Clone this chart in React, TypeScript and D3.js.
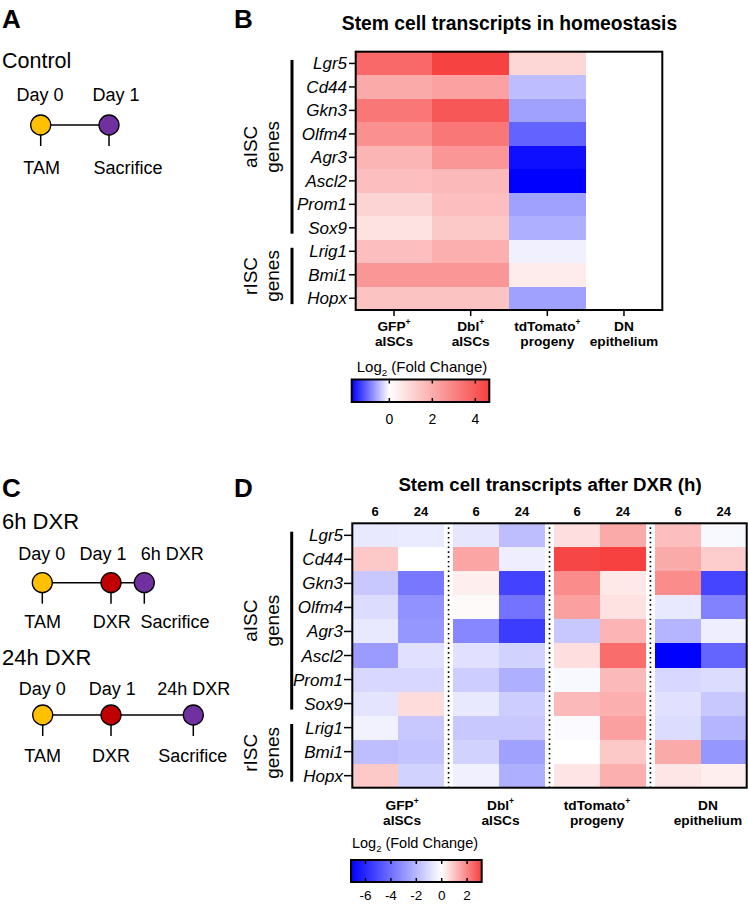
import React from "react";
import * as d3 from "d3";

// ---------- DATA ----------
const genes = ["Lgr5", "Cd44", "Gkn3", "Olfm4", "Agr3", "Ascl2", "Prom1", "Sox9", "Lrig1", "Bmi1", "Hopx"];
const aiscGenes = ["Lgr5", "Cd44", "Gkn3", "Olfm4", "Agr3", "Ascl2", "Prom1", "Sox9"];
const riscGenes = ["Lrig1", "Bmi1", "Hopx"];

const populations = ["GFP", "Dbl", "tdTomato", "DN"];
const popLabels = [
  { main: "GFP", sup: "+", second: "aISCs" },
  { main: "Dbl", sup: "+", second: "aISCs" },
  { main: "tdTomato", sup: "+", second: "progeny" },
  { main: "DN", sup: "", second: "epithelium" },
];

// Panel B: Log2 fold change in homeostasis
const homeoGFP = [3.65, 2.07, 3.3, 2.7, 1.8, 1.58, 1.05, 0.73, 1.58, 2.55, 1.46];
const homeoDbl = [4.6, 2.3, 4.1, 3.3, 2.55, 1.7, 1.58, 1.34, 1.95, 2.55, 1.46];
const homeoTdTomato = [1.0, -0.45, -0.65, -1.07, -1.65, -1.75, -0.65, -0.55, -0.1, 0.49, -0.65];
const homeoDN = [0, 0, 0, 0, 0, 0, 0, 0, 0, 0, 0];
const homeoDomain = [-1.75, 0, 4.65];
const homeoTicks = [0, 2, 4];

// Panel D: Log2 fold change after DXR (6h, 24h)
const dxrTimes = ["6", "24"];
const gfp6 = [-0.64, 0.91, -1.54, -0.98, -0.64, -2.8, -1.12, -0.76, -0.36, -1.82, 0.91];
const gfp24 = [-0.55, 0, -3.78, -3.08, -2.94, -0.84, -1.12, 0.58, -1.54, -1.68, -1.26];
const dbl6 = [-0.7, 1.48, 0.28, 0.08, -3.36, -0.84, -1.4, -0.64, -1.54, -1.26, -0.42];
const dbl24 = [-1.82, -0.48, -5.3, -3.92, -5.46, -1.26, -2.24, -1.4, -1.54, -2.66, -2.24];
const td6 = [0.55, 3.05, 1.9, 1.57, -1.54, 0.55, -0.2, 1.16, -0.14, 0, 0.45];
const td24 = [1.4, 3.15, 0.38, 0.5, 1.24, 2.4, 1.16, 1.32, 1.57, 0.91, 1.32];
const dn6 = [1.07, 1.4, 1.9, -0.64, -2.1, -7.14, -1.12, -0.84, -0.98, 1.4, 0.41];
const dn24 = [-0.2, 0.82, -5.2, -3.5, -0.48, -4.34, -0.98, -1.54, -2.1, -2.94, 0.28];
const dxrDomain = [-7.14, 0, 3.15];
const dxrTicks = [-6, -4, -2, 0, 2];

// Timelines
const controlEvents = [
  { top: "Day 0", bottom: "TAM", color: "#FFC000" },
  { top: "Day 1", bottom: "Sacrifice", color: "#7030A0" },
];
const dxr6Events = [
  { top: "Day 0", bottom: "TAM", color: "#FFC000" },
  { top: "Day 1", bottom: "DXR", color: "#C00000" },
  { top: "6h DXR", bottom: "Sacrifice", color: "#7030A0" },
];
const dxr24Events = [
  { top: "Day 0", bottom: "TAM", color: "#FFC000" },
  { top: "Day 1", bottom: "DXR", color: "#C00000" },
  { top: "24h DXR", bottom: "Sacrifice", color: "#7030A0" },
];

// ---------- STYLE ----------
const FONT = "'Liberation Sans', Arial, Helvetica, sans-serif";
const BLUE = "#0000ff";
const WHITE = "#ffffff";
const RED = "#f74040";
const dxrLabelShift = [4, 1.5, -3, 7];

function Timeline({ events, xs, topXs, botXs, yTop, yCircle, yBot }) {
  const x = d3.scaleLinear().domain(d3.range(events.length)).range(xs);
  const r = 10;
  return (
    <g>
      <line x1={x(0)} x2={x(events.length - 1)} y1={yCircle} y2={yCircle} stroke="#000" strokeWidth={1.5} />
      {events.map((e, i) => (
        <g key={i}>
          <line x1={x(i)} x2={x(i)} y1={yCircle + r} y2={yCircle + r + 11} stroke="#000" strokeWidth={1.5} />
          <circle cx={x(i)} cy={yCircle} r={r} fill={e.color} stroke="#000" strokeWidth={1.3} />
          <text x={topXs[i]} y={yTop} textAnchor="middle" fontSize={18}>{e.top}</text>
          <text x={botXs[i]} y={yBot} textAnchor="middle" fontSize={18}>{e.bottom}</text>
        </g>
      ))}
    </g>
  );
}

function GeneBrackets({ y, xLine, xLab1, xLab2 }) {
  const groups = [
    { list: aiscGenes, name: "aISC" },
    { list: riscGenes, name: "rISC" },
  ];
  return (
    <g>
      {groups.map((g, i) => {
        const y0 = y(g.list[0]) + y.bandwidth() * 0.35;
        const y1 = y(g.list[g.list.length - 1]) + y.bandwidth() * 0.75;
        const yc = (y0 + y1) / 2;
        return (
          <g key={i}>
            <line x1={xLine} x2={xLine} y1={y0} y2={y1} stroke="#000" strokeWidth={3} />
            <text transform={`translate(${xLab1},${yc}) rotate(-90)`} textAnchor="middle" fontSize={19}>{g.name}</text>
            <text transform={`translate(${xLab2},${yc}) rotate(-90)`} textAnchor="middle" fontSize={19}>genes</text>
          </g>
        );
      })}
    </g>
  );
}

function ColorBar({ x0, x1, y0, h, domain, ticks, color, id, labelY, labelSize, titleY, titleX, titleSize }) {
  const sx = d3.scaleLinear().domain([domain[0], domain[2]]).range([x0, x1]);
  const zeroOff = (domain[1] - domain[0]) / (domain[2] - domain[0]);
  return (
    <g>
      <defs>
        <linearGradient id={id} x1="0" x2="1" y1="0" y2="0">
          <stop offset="0" stopColor={color(domain[0])} />
          <stop offset={zeroOff} stopColor={color(domain[1])} />
          <stop offset="1" stopColor={color(domain[2])} />
        </linearGradient>
      </defs>
      <text x={titleX} y={titleY} textAnchor="middle" fontSize={titleSize}>
        Log<tspan fontSize={titleSize * 0.65} dy={4}>2</tspan>
        <tspan dy={-4}> (Fold Change)</tspan>
      </text>
      <rect x={x0} y={y0} width={x1 - x0} height={h} fill={`url(#${id})`} stroke="#000" strokeWidth={2} />
      {ticks.map((t) => (
        <g key={t}>
          <line x1={sx(t)} x2={sx(t)} y1={y0 + 1} y2={y0 + 4} stroke="#000" strokeWidth={1.5} />
          <line x1={sx(t)} x2={sx(t)} y1={y0 + h - 4} y2={y0 + h - 1} stroke="#000" strokeWidth={1.5} />
          <text x={sx(t)} y={labelY} textAnchor="middle" fontSize={labelSize}>{t}</text>
        </g>
      ))}
    </g>
  );
}

function PopLabel({ x, y, size, gap, lab }) {
  return (
    <g fontWeight="bold" fontSize={size}>
      <text x={x} y={y} textAnchor="middle">
        {lab.main}
        {lab.sup ? <tspan fontSize={size * 0.62} dy={-6}>{lab.sup}</tspan> : null}
      </text>
      <text x={x} y={y + gap} textAnchor="middle">{lab.second}</text>
    </g>
  );
}

export default function App() {
  // ----- Panel B -----
  const homeoData = [homeoGFP, homeoDbl, homeoTdTomato, homeoDN];
  const colorB = d3.scaleLinear<string>().domain(homeoDomain).range([BLUE, WHITE, RED]).clamp(true);
  const xB = d3.scaleBand().domain(populations).range([355.7, 662.3]);
  const yB = d3.scaleBand().domain(genes).range([51.7, 310]);

  // ----- Panel D -----
  const dxrData = { GFP: [gfp6, gfp24], Dbl: [dbl6, dbl24], tdTomato: [td6, td24], DN: [dn6, dn24] };
  const colorD = d3.scaleLinear<string>().domain(dxrDomain).range([BLUE, WHITE, RED]).clamp(true);
  const xDg = d3.scaleBand().domain(populations).range([352.3, 746.7]).paddingInner(0.0925);
  const xDt = d3.scaleBand().domain(dxrTimes).range([0, xDg.bandwidth()]);
  const yD = d3.scaleBand().domain(genes).range([523.3, 787.7]);

  return (
    <svg width={748} height={905} style={{ position: "absolute", left: 0, top: 0, background: "#fff" }} fontFamily={FONT}>
      <rect x={0} y={0} width={748} height={905} fill="#fff" />
      {/* Panel letters */}
      <g fontWeight="bold" fontSize={26}>
        <text x={2} y={28}>A</text>
        <text x={234} y={28}>B</text>
        <text x={2} y={497}>C</text>
        <text x={234} y={497}>D</text>
      </g>

      {/* Panel A */}
      <text x={2} y={68} fontSize={21.5}>Control</text>
      <Timeline events={controlEvents} xs={[40.7, 109]} topXs={[40, 116]} botXs={[41.7, 128]} yTop={101} yCircle={125} yBot={174} />

      {/* Panel C */}
      <text x={2} y={529} fontSize={22}>6h DXR</text>
      <Timeline events={dxr6Events} xs={[42.3, 111, 144.3]} topXs={[41.7, 103, 172.3]} botXs={[42.7, 111.7, 175]} yTop={560} yCircle={582.7} yBot={628} />
      <text x={2} y={665} fontSize={22}>24h DXR</text>
      <Timeline events={dxr24Events} xs={[42.7, 111, 193.3]} topXs={[42.3, 112.2, 193.7]} botXs={[42.7, 111, 192.7]} yTop={695} yCircle={715} yBot={761.5} />

      {/* Panel B */}
      <text x={509.5} y={30} textAnchor="middle" fontWeight="bold" fontSize={19.3}>Stem cell transcripts in homeostasis</text>
      <g shapeRendering="crispEdges">
        {populations.map((p, j) =>
          genes.map((g, i) => (
            <rect key={p + g} x={xB(p)} y={yB(g)} width={xB.bandwidth() + 0.5} height={yB.bandwidth() + 0.5} fill={colorB(homeoData[j][i])} />
          ))
        )}
      </g>
      <rect x={355.7} y={51.7} width={662.3 - 355.7} height={310 - 51.7} fill="none" stroke="#000" strokeWidth={2} />
      {genes.map((g) => (
        <g key={g}>
          <line x1={349} x2={355} y1={yB(g) + yB.bandwidth() / 2} y2={yB(g) + yB.bandwidth() / 2} stroke="#000" strokeWidth={1.5} />
          <text x={347} y={yB(g) + yB.bandwidth() / 2 + 6} textAnchor="end" fontStyle="italic" fontSize={17}>{g}</text>
        </g>
      ))}
      {populations.map((p, j) => (
        <g key={p}>
          <line x1={xB(p) + xB.bandwidth() / 2} x2={xB(p) + xB.bandwidth() / 2} y1={310} y2={316} stroke="#000" strokeWidth={1.5} />
          <PopLabel x={xB(p) + xB.bandwidth() / 2} y={330.5} size={13.7} gap={15.5} lab={popLabels[j]} />
        </g>
      ))}
      <GeneBrackets y={yB} xLine={292} xLab1={257} xLab2={279} />
      <ColorBar x0={351.7} x1={489.3} y0={379.5} h={22.5} domain={homeoDomain} ticks={homeoTicks} color={colorB} id="gradB"
        labelY={424} labelSize={14} titleX={422} titleY={372} titleSize={15} />

      {/* Panel D */}
      <text x={550} y={491} textAnchor="middle" fontWeight="bold" fontSize={18.7}>Stem cell transcripts after DXR (h)</text>
      <g shapeRendering="crispEdges">
        {populations.map((p) =>
          dxrTimes.map((t, k) =>
            genes.map((g, i) => (
              <rect key={p + t + g} x={xDg(p) + xDt(t)} y={yD(g)} width={xDt.bandwidth() + 0.5} height={yD.bandwidth() + 0.5} fill={colorD(dxrData[p][k][i])} />
            ))
          )
        )}
      </g>
      {populations.slice(1).map((p) => {
        const xg = xDg(p) - (xDg.step() - xDg.bandwidth()) / 2;
        return <line key={p} x1={xg} x2={xg} y1={yD.range()[0] + 4} y2={yD.range()[1]} stroke="#000" strokeWidth={1.6} strokeDasharray="1.6,3.2" />;
      })}
      <rect x={352.3} y={523.3} width={746.7 - 352.3} height={787.7 - 523.3} fill="none" stroke="#000" strokeWidth={2} />
      {populations.map((p) =>
        dxrTimes.map((t) => (
          <text key={p + t} x={xDg(p) + xDt(t) + xDt.bandwidth() / 2} y={516} textAnchor="middle" fontWeight="bold" fontSize={13}>{t}</text>
        ))
      )}
      {genes.map((g) => (
        <g key={g}>
          <line x1={344} x2={352} y1={yD(g) + yD.bandwidth() / 2} y2={yD(g) + yD.bandwidth() / 2} stroke="#000" strokeWidth={1.5} />
          <text x={343} y={yD(g) + yD.bandwidth() / 2 + 6} textAnchor="end" fontStyle="italic" fontSize={17}>{g}</text>
        </g>
      ))}
      {populations.map((p, j) => (
        <PopLabel key={p} x={xDg(p) + xDg.bandwidth() / 2 + dxrLabelShift[j]} y={809.5} size={13.7} gap={15.5} lab={popLabels[j]} />
      ))}
      <GeneBrackets y={yD} xLine={291.7} xLab1={257} xLab2={279} />
      <ColorBar x0={351} x1={481.7} y0={860} h={22} domain={dxrDomain} ticks={dxrTicks} color={colorD} id="gradD"
        labelY={900} labelSize={13.5} titleX={415} titleY={848} titleSize={14.5} />
    </svg>
  );
}
